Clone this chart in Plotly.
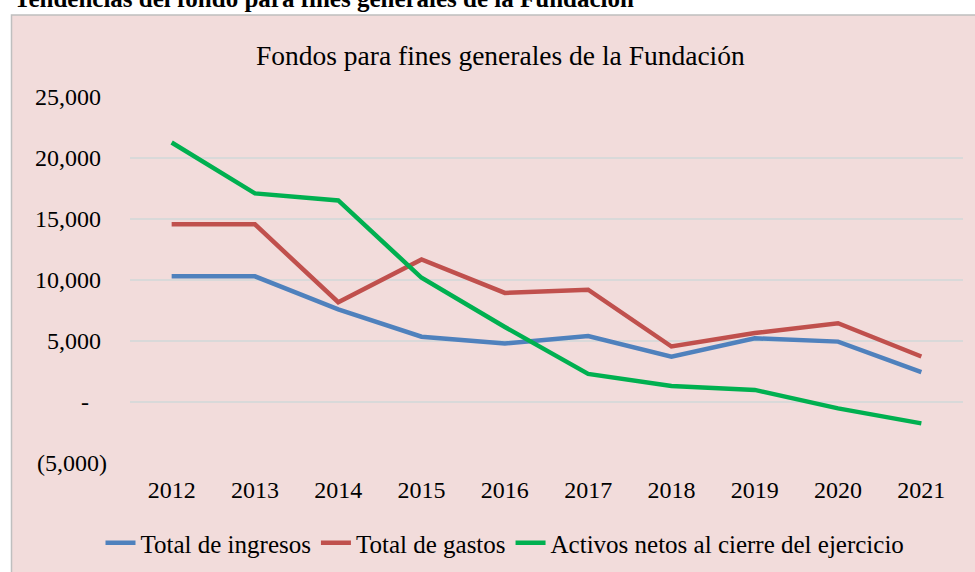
import plotly.graph_objects as go

years = ["2012", "2013", "2014", "2015", "2016", "2017", "2018", "2019", "2020", "2021"]
total_ingresos = [10300, 10300, 7600, 5350, 4800, 5400, 3720, 5220, 4950, 2450]
total_gastos = [14560, 14560, 8180, 11680, 8940, 9200, 4550, 5650, 6460, 3730]
activos_netos = [21270, 17100, 16520, 10180, 6150, 2300, 1320, 990, -520, -1750]

y_tickvals = [25000, 20000, 15000, 10000, 5000, 0, -5000]
y_ticktext = ["25,000\u00a0", "20,000\u00a0", "15,000\u00a0", "10,000\u00a0", "5,000\u00a0",
              "-\u00a0\u00a0\u00a0", "(5,000)"]

W, H = 975, 572
L, R, T, B = 130, 12, 97, 109
pw, ph = W - L - R, H - T - B

def px_x(p):
    return (p - L) / pw

def px_y(p):
    return (H - B - p) / ph

FONT = "Liberation Serif"

fig = go.Figure()
series = [
    ("Total de ingresos", total_ingresos, "#4F81BD"),
    ("Total de gastos", total_gastos, "#C0504D"),
    ("Activos netos al cierre del ejercicio", activos_netos, "#00B050"),
]
for name, vals, col in series:
    fig.add_trace(go.Scatter(x=years, y=vals, name=name, mode="lines",
                             line=dict(color=col, width=4.5)))

fig.add_shape(type="rect", xref="paper", yref="paper",
              x0=px_x(11.5), x1=px_x(990), y0=px_y(590), y1=px_y(15),
              fillcolor="#F2DCDB", line=dict(color="#BFBFBF", width=1.5), layer="below")

fig.add_annotation(text="Fondos para fines generales de la Fundación", xref="paper", yref="paper",
                   x=px_x(500), y=px_y(55), xanchor="center", yanchor="middle",
                   showarrow=False, font=dict(family=FONT, size=27.5, color="#000000"))

fig.add_annotation(text="<b>Tendencias del fondo para fines generales de la Fundación</b>",
                   xref="paper", yref="paper", x=px_x(12), y=px_y(-1),
                   xanchor="left", yanchor="middle", showarrow=False,
                   font=dict(family=FONT, size=25, color="#000000"))

fig.update_layout(
    width=W, height=H,
    margin=dict(l=L, r=R, t=T, b=B, pad=0, autoexpand=False),
    paper_bgcolor="#FFFFFF",
    plot_bgcolor="rgba(0,0,0,0)",
    font=dict(family=FONT, size=24, color="#000000"),
    showlegend=True,
    legend=dict(orientation="h", x=px_x(505), xanchor="center", y=px_y(543), yanchor="middle",
                font=dict(family=FONT, size=25, color="#000000"), bgcolor="rgba(0,0,0,0)",
                itemwidth=30, tracegroupgap=0),
)
fig.update_xaxes(type="category", range=[-0.5, 9.5], showgrid=False, showline=False,
                 zeroline=False, automargin=False,
                 ticks="", ticklabelstandoff=10, tickfont=dict(family=FONT, size=24))
fig.update_yaxes(range=[-5000, 25000], tickvals=y_tickvals, ticktext=y_ticktext,
                 showgrid=True, gridcolor="#D9D9D9", gridwidth=1.5, zeroline=False,
                 showline=False, ticks="", ticklabelstandoff=22, automargin=False,
                 tickfont=dict(family=FONT, size=24))

fig.write_html("out.html", config={"displayModeBar": False},
               post_script="document.body.style.margin='0';document.body.style.overflow='hidden';")
